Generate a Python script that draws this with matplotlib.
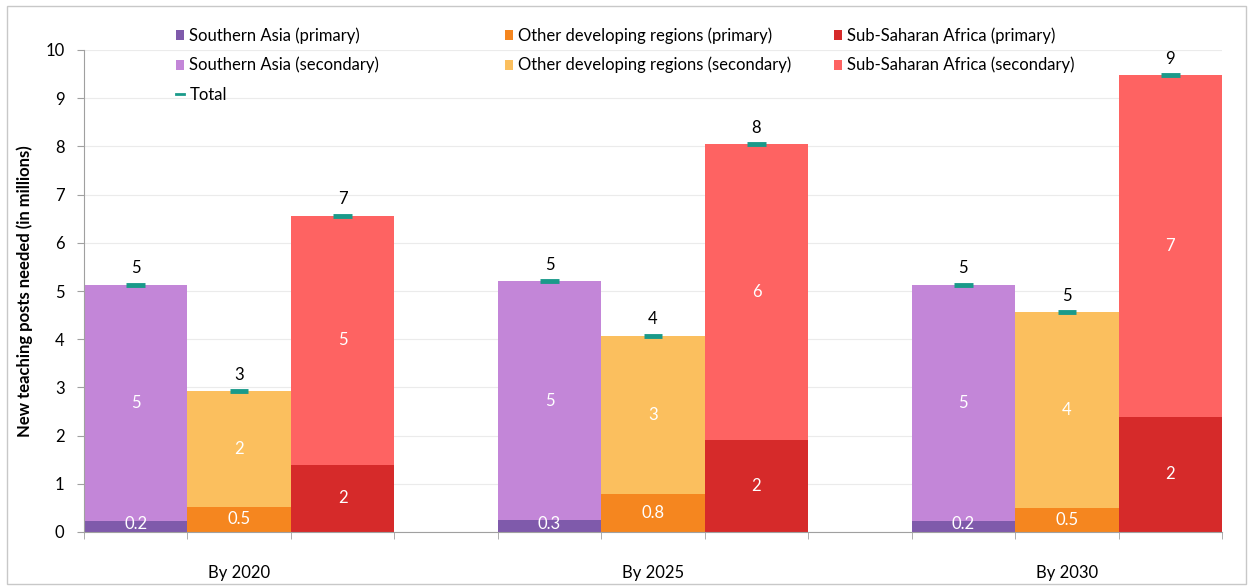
import matplotlib
matplotlib.use("Agg")
import matplotlib.pyplot as plt
from matplotlib.patches import Patch, Rectangle
from matplotlib.lines import Line2D
import numpy as np

plt.rcParams['font.family'] = ['Lato', 'DejaVu Sans']

groups = ["By 2020", "By 2025", "By 2030"]
regions = ["Southern Asia", "Other developing regions", "Sub-Saharan Africa"]

# values in millions [group][region]
primary = [[0.23, 0.52, 1.40],
           [0.25, 0.79, 1.91],
           [0.23, 0.50, 2.39]]
totals = [[5.13, 2.92, 6.56],
          [5.20, 4.07, 8.05],
          [5.13, 4.56, 9.48]]
primary_labels = [["0.2", "0.5", "2"], ["0.3", "0.8", "2"], ["0.2", "0.5", "2"]]
secondary_labels = [["5", "2", "5"], ["5", "3", "6"], ["5", "4", "7"]]
total_labels = [["5", "3", "7"], ["5", "4", "8"], ["5", "5", "9"]]

col_primary = ["#7f5aab", "#f5861f", "#d62a2a"]
col_secondary = ["#c386d8", "#fbbf5e", "#fe6362"]
col_total = "#1a9a8a"

FS = 12

fig = plt.figure(figsize=(12.5, 5.88), dpi=100)
W, H = 1250, 588
ax = fig.add_axes([84 / W, 1 - 532 / H, (1222 - 84) / W, (532 - 50) / H])

# 11 slots: 3 bars, gap, 3 bars, gap, 3 bars
for g in range(3):
    for r in range(3):
        x = g * 4 + r + 0.5
        p = primary[g][r]
        t = totals[g][r]
        s = t - p
        ax.bar(x, p, width=1.0, color=col_primary[r], zorder=2)
        ax.bar(x, s, bottom=p, width=1.0, color=col_secondary[r], zorder=2)
        ax.plot([x - 0.09, x + 0.09], [t, t], color=col_total, lw=3.5,
                solid_capstyle='butt', zorder=3)
        ax.text(x, p / 2 if p > 0.4 else 0.16, primary_labels[g][r], color="white",
                ha="center", va="center", fontsize=FS, zorder=4)
        ax.text(x, p + s / 2, secondary_labels[g][r], color="white",
                ha="center", va="center", fontsize=FS, zorder=4)
        ax.annotate(total_labels[g][r], (x, t), xytext=(0, 6), textcoords="offset points",
                    ha="center", va="bottom", fontsize=FS, color="black", zorder=4)

ax.set_xlim(0, 11)
ax.set_ylim(0, 10)
ax.set_yticks(range(0, 11))
ax.tick_params(axis='y', labelsize=FS, length=5, color="#a0a0a0", pad=9)
ax.set_xticks([g * 4 + 1.5 for g in range(3)])
ax.set_xticklabels(groups, fontsize=FS)
ax.tick_params(axis='x', length=0, pad=24)
ax.set_xticks([0, 1, 2, 3, 4, 5, 6, 7, 8, 9, 10, 11], minor=True)
ax.tick_params(axis='x', which='minor', length=5, color="#a0a0a0")
ax.grid(axis='y', color="#ebebeb", lw=0.8, zorder=0)
for side in ["top", "right"]:
    ax.spines[side].set_visible(False)
for side in ["left", "bottom"]:
    ax.spines[side].set_color("#a0a0a0")
ax.set_ylabel("New teaching posts needed (in millions)", fontsize=FS, fontweight="bold")
ax.yaxis.set_label_coords(-0.045, 0.5)

# legends (three columns)
def sq(c):
    return Patch(facecolor=c, edgecolor='none')

leg_cols = [
    ([sq(col_primary[0]), sq(col_secondary[0]), Line2D([], [], color=col_total, lw=2)],
     ["Southern Asia (primary)", "Southern Asia (secondary)", "Total"], 176),
    ([sq(col_primary[1]), sq(col_secondary[1])],
     ["Other developing regions (primary)", "Other developing regions (secondary)"], 505),
    ([sq(col_primary[2]), sq(col_secondary[2])],
     ["Sub-Saharan Africa (primary)", "Sub-Saharan Africa (secondary)"], 834),
]
for handles, labels, xpx in leg_cols:
    lg = fig.legend(handles, labels, loc="upper left", bbox_to_anchor=(xpx / W, 1 - 27 / H),
                    frameon=False, fontsize=FS, handlelength=0.5, handleheight=0.55,
                    handletextpad=0.3, labelspacing=0.8, borderaxespad=0, borderpad=0)

fig.patches.append(Rectangle((7 / W, 4 / H), 1239 / W, 578 / H, transform=fig.transFigure,
                             fill=False, edgecolor="#c8c8c8", lw=1))

fig.savefig("out.png", dpi=100)
